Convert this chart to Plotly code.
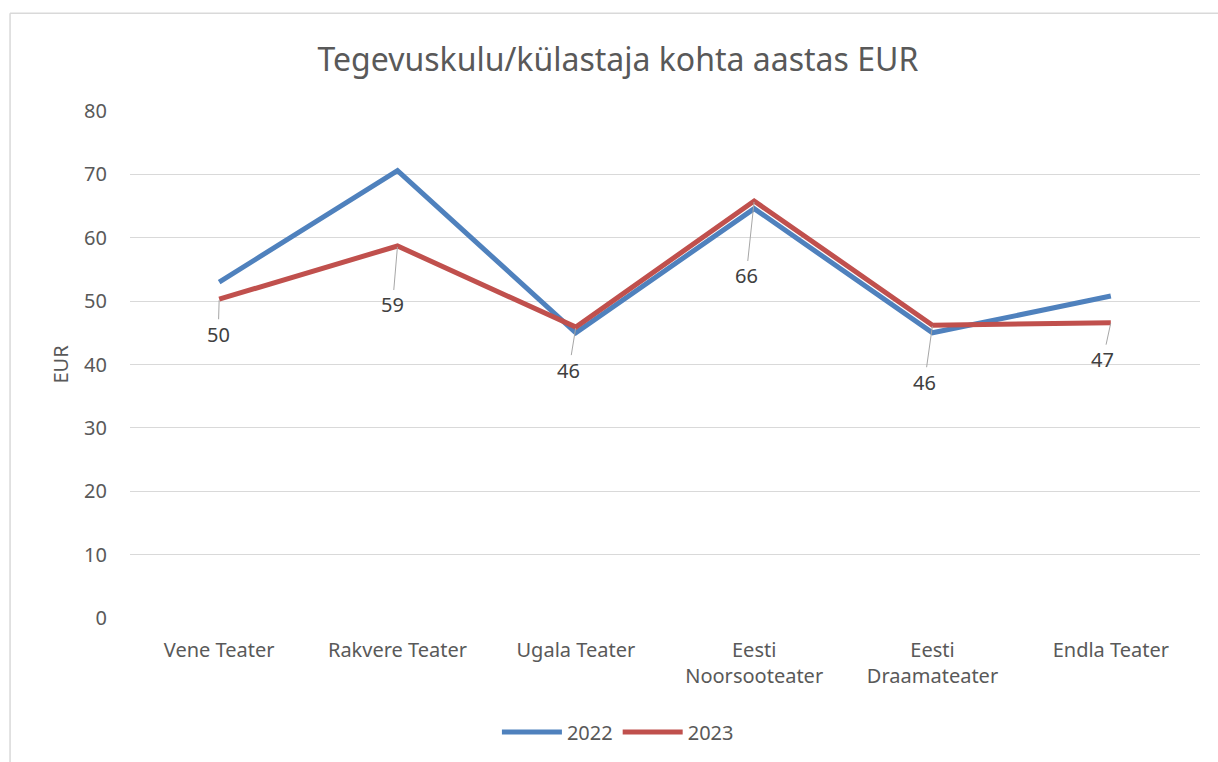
import plotly.graph_objects as go

categories = ["Vene Teater", "Rakvere Teater", "Ugala Teater", "Eesti<br>Noorsooteater", "Eesti<br>Draamateater", "Endla Teater"]
values_2022 = [53.0, 70.6, 45.0, 64.6, 45.0, 50.8]
values_2023 = [50.3, 58.7, 45.9, 65.8, 46.2, 46.6]
label_text_2023 = ["50", "59", "46", "66", "46", "47"]
y_ticks = [0, 10, 20, 30, 40, 50, 60, 70, 80]

# label offsets (pixels) for the 2023 data labels
label_ax = [-1, -5, -7, -8, -8, -8]
label_ay = [35, 59, 43, 75, 57, 37]

FONT = "Noto Sans"
GRAY = "#595959"

fig = go.Figure()
fig.add_trace(go.Scatter(x=categories, y=values_2022, mode="lines", name="2022",
                         line=dict(color="#4F81BD", width=5), hoverinfo="skip"))
fig.add_trace(go.Scatter(x=categories, y=values_2023, mode="lines", name="2023",
                         line=dict(color="#C0504D", width=5), hoverinfo="skip"))

for c, v, t, ax, ay in zip(categories, values_2023, label_text_2023, label_ax, label_ay):
    fig.add_annotation(x=c, y=v, text=t, showarrow=True, arrowhead=0, arrowwidth=1,
                       arrowcolor="#A6A6A6", ax=ax, ay=ay, standoff=1,
                       font=dict(family=FONT, size=20, color="#404040"))

fig.update_layout(
    width=1218, height=762,
    margin=dict(l=130, r=18, t=111, b=144, autoexpand=False),
    paper_bgcolor="white", plot_bgcolor="white",
    font=dict(family=FONT, color=GRAY, size=20),
    title=dict(text="Tegevuskulu/külastaja kohta aastas EUR", x=0.456, xref="paper",
               xanchor="center", y=0.921, yref="container", yanchor="middle",
               font=dict(family=FONT, size=32, color=GRAY)),
    showlegend=True,
    legend=dict(orientation="h", x=0.456, xanchor="center", y=-0.225, yanchor="middle",
                font=dict(family=FONT, size=20, color=GRAY), itemwidth=60),
    xaxis=dict(range=[-0.5, 5.5], showgrid=False, showline=False, zeroline=False, ticks="",
               ticklabelstandoff=18,
               tickfont=dict(family=FONT, size=20, color=GRAY), fixedrange=True),
    yaxis=dict(range=[0, 80], tickvals=y_ticks, showgrid=True, gridcolor="#D9D9D9",
               gridwidth=1.3, zeroline=False, showline=False, ticks="", ticklabelstandoff=22,
               tickfont=dict(family=FONT, size=20, color=GRAY),
               title=dict(text="EUR", standoff=10, font=dict(family=FONT, size=20, color=GRAY))),
)

# outer chart frame
fig.add_shape(type="line", xref="paper", yref="paper", x0=-0.1121, x1=-0.1121, y0=1.193, y1=-0.35,
              line=dict(color="#D9D9D9", width=1.5))
fig.add_shape(type="line", xref="paper", yref="paper", x0=-0.1121, x1=1.1, y0=1.193, y1=1.193,
              line=dict(color="#D9D9D9", width=1.5))

fig.write_html("out.html", config={"displayModeBar": False},
               post_script="document.body.style.margin='0';document.body.style.overflow='hidden';")
